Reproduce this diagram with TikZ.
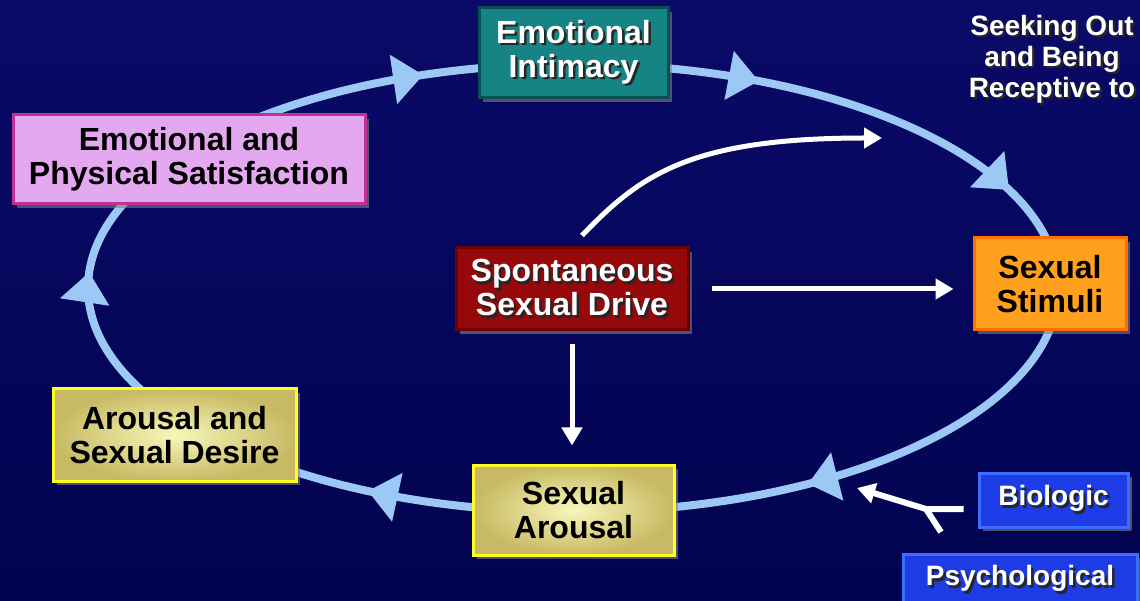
\documentclass[tikz,border=0pt]{standalone}
\usepackage{fontspec}
\setmainfont{Liberation Sans}
\usetikzlibrary{arrows.meta,shadows}

\definecolor{navytop}{RGB}{10,10,104}
\definecolor{navybot}{RGB}{1,3,80}
\definecolor{ringblue}{RGB}{156,200,245}
\definecolor{tealbox}{RGB}{22,132,132}
\definecolor{tealedge}{RGB}{8,80,84}
\definecolor{pinkbox}{RGB}{228,168,240}
\definecolor{pinkedge}{RGB}{190,50,150}
\definecolor{redbox}{RGB}{150,8,10}
\definecolor{rededge}{RGB}{110,0,0}
\definecolor{orangebox}{RGB}{255,160,30}
\definecolor{orangeedge}{RGB}{255,110,0}
\definecolor{yellowin}{RGB}{248,246,185}
\definecolor{yellowout}{RGB}{200,186,100}
\definecolor{yellowedge}{RGB}{255,255,40}
\definecolor{bluebox}{RGB}{30,60,230}
\definecolor{blueedge}{RGB}{60,110,255}

\newcommand{\shd}[1]{\rlap{\textcolor{black!85}{\hspace{1.2pt}\raisebox{-1.2pt}{#1}}}#1}

\begin{document}
\begin{tikzpicture}[x=0.5pt,y=0.5pt,
    stagebox/.style={draw, line width=1.5pt, align=center, inner sep=0pt,
      font=\fontsize{16}{17}\selectfont\bfseries,
      drop shadow={shadow xshift=2pt,shadow yshift=-2pt,opacity=0.6}},
    yellowstage/.style={stagebox, draw=yellowedge, inner color=yellowin, outer color=yellowout},
    sourcebox/.style={stagebox, fill=bluebox, draw=blueedge, text=white,
      font=\fontsize{14}{16}\selectfont\bfseries},
    flow/.style={white, line width=2.5pt, -{Triangle[length=9pt,width=10pt]}}]
  \useasboundingbox (0,0) rectangle (1140,600);
  \fill[top color=navytop, bottom color=navybot] (0,0) rectangle (1140,600);

  \draw[ringblue, line width=4pt] (573,312) ellipse [x radius=485, y radius=224];
  \foreach \s in {108,67.5,26,-61,-115,-184} {
    \pgfmathsetmacro{\ang}{atan2(-224*cos(\s),485*sin(\s))}
    \fill[ringblue, shift={({573+485*cos(\s)},{312+224*sin(\s)})}, rotate=\ang]
      (0,0) -- (-30,25) -- (-30,-25) -- cycle;
  }

  \node[stagebox, fill=tealbox, draw=tealedge, text=white, minimum width=94.5pt, minimum height=45pt]
    (intim) at (573.5,547) {\shd{Emotional}\\\shd{Intimacy}};
  \node[stagebox, fill=pinkbox, draw=pinkedge, minimum width=176pt, minimum height=44.5pt]
    (satis) at (189,440.5) {Emotional and\\Physical Satisfaction};
  \node[stagebox, fill=redbox, draw=rededge, text=white, minimum width=116pt, minimum height=41pt]
    (drive) at (572,311) {\shd{Spontaneous}\\\shd{Sexual Drive}};
  \node[stagebox, fill=orangebox, draw=orangeedge, minimum width=76pt, minimum height=46pt]
    (stim) at (1050,316) {Sexual\\Stimuli};
  \node[yellowstage, minimum width=121.5pt, minimum height=46pt]
    (desire) at (174.5,165) {Arousal and\\Sexual Desire};
  \node[yellowstage, minimum width=100.5pt, minimum height=45pt]
    (arousal) at (573.5,90) {Sexual\\Arousal};
  \node[sourcebox, minimum width=74.5pt, minimum height=27pt] (bio) at (1053.5,100) {\shd{Biologic}};
  \node[sourcebox, minimum width=117pt, minimum height=26pt] (psy) at (1020,20) {\shd{Psychological}};
  \node[text=white, align=center, font=\fontsize{14}{15.5}\selectfont\bfseries]
    (seek) at (1052,540) {\shd{Seeking Out}\\\shd{and Being}\\\shd{Receptive to}};

  \coordinate (cue) at (882,462);
  \coordinate (fork) at (926,91);
  \coordinate (psytail) at (941,68);
  \coordinate (inlet) at (857,112);
  \draw[flow] ([xshift=5pt,yshift=5.5pt]drive.north) .. controls (640,425) and (690,462) .. (cue);
  \draw[flow, shorten <=11pt, shorten >=9.5pt] (drive.east) -- (drive.east -| stim.west);
  \draw[flow, shorten <=6.5pt, shorten >=9pt] (drive.south) -- (drive.south |- arousal.north);
  \draw[white, line width=3pt] (psytail) -- (fork);
  \draw[flow, line width=3pt, line join=round] ([shift={(-7pt,-4.5pt)}]bio.west) -- (fork) -- (inlet);
\end{tikzpicture}
\end{document}
